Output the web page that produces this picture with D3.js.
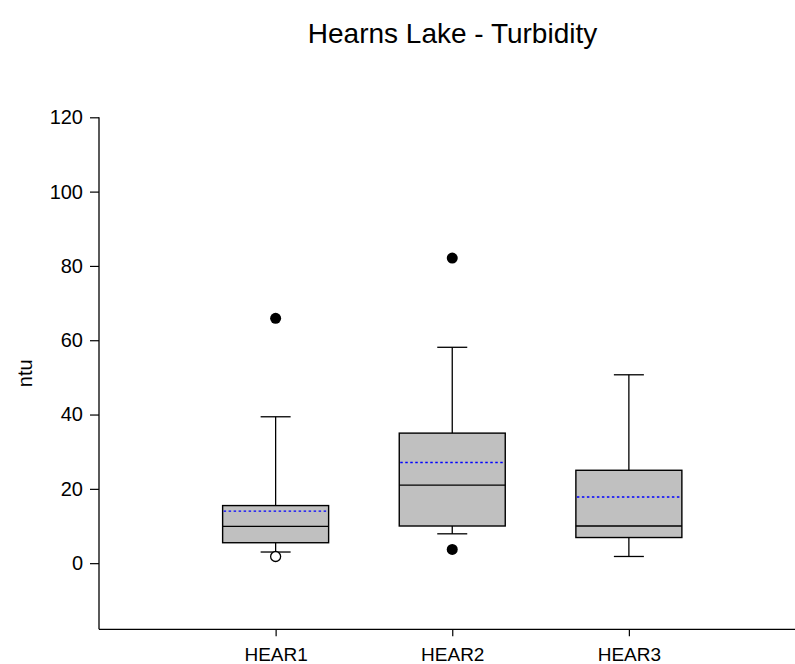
<!DOCTYPE html>
<html>
<head>
<meta charset="utf-8">
<script src="https://cdn.jsdelivr.net/npm/d3@7/dist/d3.min.js"></script>
<style>
html,body{margin:0;padding:0;background:#fff;}
svg{display:block;font-family:"Liberation Sans",Arial,sans-serif;}
</style>
</head>
<body>
<svg id="chart" width="795" height="664"></svg>
<script>
const categories = ["HEAR1", "HEAR2", "HEAR3"];
const positions = [1, 2, 3];
const whiskerLow = [3.0, 7.9, 1.8];
const q1 = [5.5, 10.0, 6.9];
const median = [9.9, 21.0, 10.0];
const q3 = [15.5, 35.0, 25.0];
const whiskerHigh = [39.4, 58.1, 50.7];
const means = [14.0, 27.1, 17.8];
const outliersFilled = [[65.9], [82.1, 3.7], []];
const outliersOpen = [[1.8], [], []];
const yTicks = [0, 20, 40, 60, 80, 100, 120];
const yDomain = [-17.8, 120];
const xDomain = [0, 4];
const title = "Hearns Lake - Turbidity";
const yLabel = "ntu";

(function () {
const svg = d3.select("#chart");
const mLeft = 99, mTop = 117.3, mBottom = 629.3;
const x = d3.scaleLinear().domain(xDomain).range([mLeft, 805.5]);
const y = d3.scaleLinear().domain(yDomain).range([mBottom, mTop]);

const boxW = 106, capW = 30;

svg.append("text").attr("x", 452.5).attr("y", 43)
  .attr("text-anchor", "middle").attr("font-size", 28).text(title);

const yAxis = d3.axisLeft(y).tickValues(yTicks).tickSize(9).tickPadding(7);
const gy = svg.append("g").attr("transform", `translate(${mLeft},0)`).call(yAxis);
gy.select(".domain").attr("d", `M0,${y(yDomain[1])}V${y(yDomain[0])}`).attr("stroke", "#000").attr("stroke-width", 1.3);
gy.selectAll(".tick line").attr("stroke", "#000").attr("stroke-width", 1.2);
gy.selectAll(".tick text").attr("font-size", 20).attr("fill", "#000").attr("font-family", "Liberation Sans, Arial, sans-serif");

const xAxis = d3.axisBottom(x).tickValues(positions).tickFormat((d, i) => categories[i]).tickSize(7).tickPadding(11);
const gx = svg.append("g").attr("transform", `translate(0,${mBottom})`).call(xAxis);
gx.select(".domain").attr("d", `M${x(xDomain[0])},0H${x(xDomain[1])}`).attr("stroke", "#000").attr("stroke-width", 1.3);
gx.selectAll(".tick line").attr("stroke", "#000").attr("stroke-width", 1.2);
gx.selectAll(".tick text").attr("font-size", 19).attr("fill", "#000").attr("font-family", "Liberation Sans, Arial, sans-serif");

svg.append("text").attr("transform", `translate(32,${(mTop + mBottom) / 2}) rotate(-90)`)
  .attr("text-anchor", "middle").attr("font-size", 20).text(yLabel);

const g = svg.append("g");
positions.forEach((p, i) => {
  const cx = x(p);
  g.append("line").attr("x1", cx).attr("x2", cx).attr("y1", y(q3[i])).attr("y2", y(whiskerHigh[i])).attr("stroke", "#000").attr("stroke-width", 1.3);
  g.append("line").attr("x1", cx).attr("x2", cx).attr("y1", y(q1[i])).attr("y2", y(whiskerLow[i])).attr("stroke", "#000").attr("stroke-width", 1.3);
  g.append("line").attr("x1", cx - capW / 2).attr("x2", cx + capW / 2).attr("y1", y(whiskerHigh[i])).attr("y2", y(whiskerHigh[i])).attr("stroke", "#000").attr("stroke-width", 1.3);
  g.append("line").attr("x1", cx - capW / 2).attr("x2", cx + capW / 2).attr("y1", y(whiskerLow[i])).attr("y2", y(whiskerLow[i])).attr("stroke", "#000").attr("stroke-width", 1.3);
  g.append("rect").attr("x", cx - boxW / 2).attr("width", boxW)
    .attr("y", y(q3[i])).attr("height", y(q1[i]) - y(q3[i]))
    .attr("fill", "#c0c0c0").attr("stroke", "#000").attr("stroke-width", 1.4);
  g.append("line").attr("x1", cx - boxW / 2).attr("x2", cx + boxW / 2).attr("y1", y(median[i])).attr("y2", y(median[i])).attr("stroke", "#000").attr("stroke-width", 1.3);
  g.append("line").attr("x1", cx - boxW / 2 + 1).attr("x2", cx + boxW / 2 - 2).attr("y1", y(means[i])).attr("y2", y(means[i]))
    .attr("stroke", "#0000ff").attr("stroke-width", 1.4).attr("stroke-dasharray", "2.5,2.5");
  outliersFilled[i].forEach(v => {
    g.append("circle").attr("cx", cx).attr("cy", y(v)).attr("r", 5.5).attr("fill", "#000");
  });
  outliersOpen[i].forEach(v => {
    g.append("circle").attr("cx", cx).attr("cy", y(v)).attr("r", 5).attr("fill", "#fff").attr("stroke", "#000").attr("stroke-width", 1.3);
  });
});
})();
</script>
</body>
</html>
